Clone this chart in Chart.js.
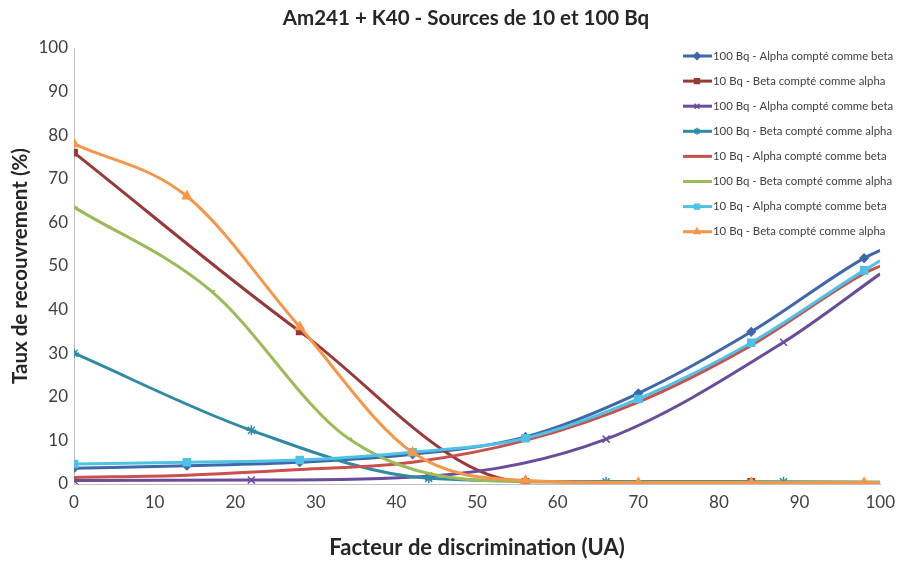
<!DOCTYPE html>
<html>
<head>
<meta charset="utf-8">
<script src="https://cdn.jsdelivr.net/npm/chart.js@4"></script>
<style>
  html, body { margin: 0; padding: 0; background: #fff; }
  #wrap { width: 903px; height: 563px; }
</style>
</head>
<body>
<div id="wrap"><canvas id="recChart" width="903" height="563"></canvas></div>
<script>
// x positions of the measured points
const xStep14 = [0, 14, 28, 42, 56, 70, 84, 98, 100];
const xStep17 = [0, 17, 34, 51, 68, 85, 100];
const xStep22 = [0, 22, 44, 66, 88, 100];
const xStep28 = [0, 28, 56, 84];

// recovery rates (%)
const alpha100Blue   = [3.6, 4.2, 5.0, 6.8, 10.8, 20.8, 34.9, 51.8, 53.6];
const beta10DarkRed  = [76, 35, 0.5, 0.5];
const alpha100Purple = [0.8, 0.9, 1.8, 10.3, 32.5, 48.2];
const beta100Teal    = [30, 12.3, 1.3, 0.5, 0.5, 0.4];
const alpha10Red     = [1.5, 2.0, 3.3, 5.0, 10.0, 18.8, 31.8, 48.3, 50.0];
const beta100Green   = [63.5, 44.3, 10.5, 0.8, 0.4, 0.4, 0.4];
const alpha10Cyan    = [4.6, 5.0, 5.5, 7.3, 10.5, 19.5, 32.4, 49.0, 51.2];
const beta10Orange   = [78, 66, 36, 7.2, 0.8, 0.3, 0.3, 0.3, 0.3];

const seriesLabels = [
  '100 Bq - Alpha compté comme beta',
  '10 Bq - Beta compté comme alpha',
  '100 Bq - Alpha compté comme beta',
  '100 Bq - Beta compté comme alpha',
  '10 Bq - Alpha compté comme beta',
  '100 Bq - Beta compté comme alpha',
  '10 Bq - Alpha compté comme beta',
  '10 Bq - Beta compté comme alpha'
];
const axisTicks = [0, 10, 20, 30, 40, 50, 60, 70, 80, 90, 100];
const chartTitle = 'Am241 + K40 - Sources de 10 et 100 Bq';

const zip = (xs, ys) => xs.map((x, i) => ({ x: x, y: ys[i] }));

const seriesData = [
  zip(xStep14, alpha100Blue),
  zip(xStep28, beta10DarkRed),
  zip(xStep22, alpha100Purple),
  zip(xStep22, beta100Teal),
  zip(xStep14, alpha10Red),
  zip(xStep17, beta100Green),
  zip(xStep14, alpha10Cyan),
  zip(xStep14, beta10Orange)
];

// look of each series
const looks = [
  { color: '#3F67A9', style: 'rectRot', r: 4 },
  { color: '#993838', style: 'rect', r: 4.5 },
  { color: '#6A4C9C', style: 'crossRot', r: 5 },
  { color: '#2F8AA6', style: 'star', r: 5 },
  { color: '#C9504C', style: 'circle', r: 0 },
  { color: '#9BBB59', style: 'dash', r: 4 },
  { color: '#4DC2E6', style: 'rect', r: 5 },
  { color: '#F79646', style: 'triangle', r: 5 }
];

const datasets = seriesData.map((pts, i) => ({
  label: seriesLabels[i],
  data: pts,
  showLine: true,
  borderColor: looks[i].color,
  backgroundColor: looks[i].color,
  borderWidth: 3,
  cubicInterpolationMode: 'monotone',
  pointStyle: looks[i].style,
  pointRadius: ctx => (ctx.raw && ctx.raw.x === 100 ? 0 : looks[i].r),
  pointBorderWidth: 1.5,
  order: -i
}));

// title and legend, drawn by hand so they sit where the original has them
const decorations = {
  id: 'decorations',
  afterDraw(chart) {
    const ctx = chart.ctx;
    ctx.save();
    ctx.fillStyle = '#262626';
    ctx.font = 'bold 20.5px Lato';
    ctx.textAlign = 'center';
    ctx.textBaseline = 'middle';
    ctx.fillText(chartTitle, 466, 18);
    ctx.restore();

    chart.data.datasets.forEach((ds, i) => {
      const y = 56 + i * 25.1;
      ctx.save();
      ctx.strokeStyle = ds.borderColor;
      ctx.fillStyle = ds.borderColor;
      ctx.lineWidth = 3;
      ctx.beginPath();
      ctx.moveTo(683, y);
      ctx.lineTo(712, y);
      ctx.stroke();
      if (looks[i].r > 0) {
        ctx.lineWidth = 1.5;
        Chart.helpers.drawPoint(ctx, { pointStyle: looks[i].style, radius: 3.5, borderWidth: 1.5, rotation: 0 }, 697, y);
      }
      ctx.fillStyle = '#404040';
      ctx.font = '11.4px Lato';
      ctx.textBaseline = 'middle';
      ctx.fillText(ds.label, 713, y);
      ctx.restore();
    });
  }
};

const chart = new Chart(document.getElementById('recChart').getContext('2d'), {
  type: 'scatter',
  data: { datasets: datasets },
  options: {
    responsive: false,
    animation: false,
    layout: { padding: { top: 48, right: 20 } },
    plugins: {
      legend: { display: false },
      tooltip: { enabled: false },
      title: { display: false }
    },
    scales: {
      x: {
        type: 'linear',
        min: 0,
        max: 100,
        afterBuildTicks: s => { s.ticks = axisTicks.map(v => ({ value: v })); },
        afterFit: s => { s.height = 79; },
        grid: { display: false, drawTicks: false },
        border: { display: true, color: '#BFBFBF', width: 1 },
        ticks: { color: '#404040', padding: 8, font: { family: 'Lato', size: 17 } },
        title: {
          display: true,
          text: 'Facteur de discrimination (UA)',
          color: '#262626',
          font: { family: 'Lato', size: 22, weight: 'bold', lineHeight: 1.2 },
          padding: { top: 0, bottom: 2 }
        }
      },
      y: {
        min: 0,
        max: 100,
        afterBuildTicks: s => { s.ticks = axisTicks.map(v => ({ value: v })); },
        afterFit: s => { s.width = 74; },
        grid: { display: false, drawTicks: false },
        border: { display: true, color: '#BFBFBF', width: 1 },
        ticks: { color: '#404040', padding: 6, font: { family: 'Lato', size: 17 } },
        title: {
          display: true,
          text: 'Taux de recouvrement (%)',
          color: '#262626',
          font: { family: 'Lato', size: 20.5, weight: 'bold', lineHeight: 1.2 },
          padding: { top: 8, bottom: 0 }
        }
      }
    }
  },
  plugins: [decorations]
});
</script>
</body>
</html>
